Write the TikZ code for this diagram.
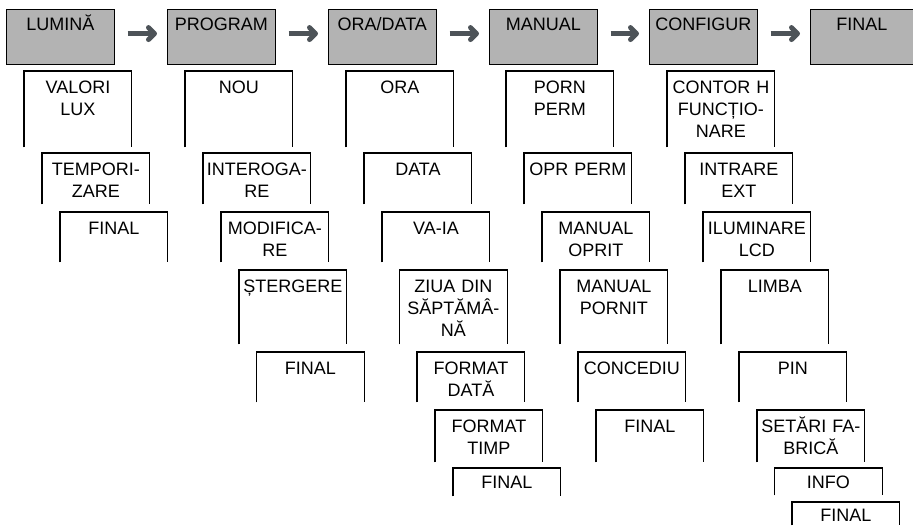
\documentclass[tikz,border=0pt]{standalone}
\usepackage{fontspec}
\setmainfont{Liberation Sans}
\usepackage{tikz}
\usetikzlibrary{arrows.meta}

\definecolor{menugray}{RGB}{179,179,179}
\definecolor{arrowgray}{RGB}{77,83,88}

\tikzset{
  menu/.style={draw, fill=menugray, line width=1.1pt, anchor=north west,
    inner sep=0pt, text width=107.5pt, align=center,
    text height=21pt, text depth=34pt, font=\fontsize{18}{22}\selectfont},
  item/.style={anchor=north west, inner sep=0pt, text width=107.5pt,
    align=center, text height=22pt, text depth=#1,
    font=\fontsize{18}{22}\selectfont},
  go/.style={draw=arrowgray, line width=5pt,
    -{Straight Barb[length=6pt, width=12pt, round]},
    shorten <=13pt, shorten >=10pt}
}

\begin{document}
\begin{tikzpicture}[x=1pt, y=-1pt]
            \useasboundingbox (0,0) rectangle (913,525);

            % main menu
            \node[menu] (lum)  at (6, 9)     {LUMINĂ};
            \node[menu] (prog) at (167, 9)   {PROGRAM};
            \node[menu] (ora)  at (328, 9)   {ORA/DATA};
            \node[menu] (man)  at (489, 9)   {MANUAL};
            \node[menu] (cfg)  at (649, 9)   {CONFIGUR};
            \node[menu, text width=102.5pt] (fin) at (810, 9) {FINAL};

            \draw[go] ([yshift=3.5pt]lum.east)  -- ([yshift=3.5pt]prog.west); % lum-prog
            \draw[go] ([yshift=3.5pt]prog.east) -- ([yshift=3.5pt]ora.west);  % prog-ora
            \draw[go] ([yshift=3.5pt]ora.east)  -- ([yshift=3.5pt]man.west);  % ora-man
            \draw[go] ([yshift=3.5pt]man.east)  -- ([yshift=3.5pt]cfg.west);  % man-cfg
            \draw[go] ([yshift=3.5pt]cfg.east)  -- ([yshift=3.5pt]fin.west);  % cfg-fin

            % LUMINĂ
            \node[item=54pt] (lum1) at (24, 71)  {VALORI\\LUX};
            \node[item=29pt] (lum2) at (42, 153) {TEMPORI-\\ZARE};
            \node[item=28pt] (lum3) at (60, 212) {FINAL};

            % PROGRAM
            \node[item=54pt] (prog1) at (185, 71)    {NOU};
            \node[item=29pt] (prog2) at (203, 153)   {INTEROGA-\\RE};
            \node[item=28pt] (prog3) at (221, 212)   {MODIFICA-\\RE};
            \node[item=52pt] (prog4) at (239, 270)   {ȘTERGERE};
            \node[item=28pt] (prog5) at (256.5, 352) {FINAL};

            % ORA/DATA
            \node[item=54pt] (ora1) at (346, 71)    {ORA};
            \node[item=29pt] (ora2) at (364, 153)   {DATA};
            \node[item=28pt] (ora3) at (382, 212)   {VA-IA};
            \node[item=52pt] (ora4) at (399.5, 270) {ZIUA DIN\\SĂPTĂMÂ-\\NĂ};
            \node[item=28pt] (ora5) at (417, 352)   {FORMAT\\DATĂ};
            \node[item=30pt] (ora6) at (435, 410)   {FORMAT\\TIMP};
            \node[item=7.5pt, text height=20.5pt] (ora7) at (453, 468) {FINAL};

            % MANUAL
            \node[item=54pt] (man1) at (506, 71)  {PORN\\PERM};
            \node[item=29pt] (man2) at (524, 153) {OPR PERM};
            \node[item=28pt] (man3) at (542, 212) {MANUAL\\OPRIT};
            \node[item=52pt] (man4) at (560, 270) {MANUAL\\PORNIT};
            \node[item=28pt] (man5) at (578, 352) {CONCEDIU};
            \node[item=30pt] (man6) at (596, 410) {FINAL};

            % CONFIGUR
            \node[item=54pt] (cfg1) at (667, 71)    {CONTOR H\\FUNCȚIO-\\NARE};
            \node[item=29pt] (cfg2) at (685, 153)   {INTRARE\\EXT};
            \node[item=28pt] (cfg3) at (703, 212)   {ILUMINARE\\LCD};
            \node[item=52pt] (cfg4) at (721, 270)   {LIMBA};
            \node[item=28pt] (cfg5) at (739, 352)   {PIN};
            \node[item=30pt] (cfg6) at (757, 410)   {SETĂRI FA-\\BRICĂ};
            \node[item=6.5pt, text height=20.5pt] (cfg7) at (774.5, 468) {INFO};
            \node[item=4pt, text height=19pt]     (cfg8) at (792, 502)   {FINAL};

            % open frames: top and sides
            \foreach \n in {lum1,lum2,lum3,prog1,prog2,prog3,prog4,prog5,
                            ora1,ora2,ora3,ora4,ora5,ora6,ora7,
                            man1,man2,man3,man4,man5,man6,
                            cfg1,cfg2,cfg3,cfg4,cfg5,cfg6,cfg7,cfg8}
              \draw[line width=1.1pt] (\n.south west) |- (\n.north east) -- (\n.south east);
        \end{tikzpicture}
\end{document}
